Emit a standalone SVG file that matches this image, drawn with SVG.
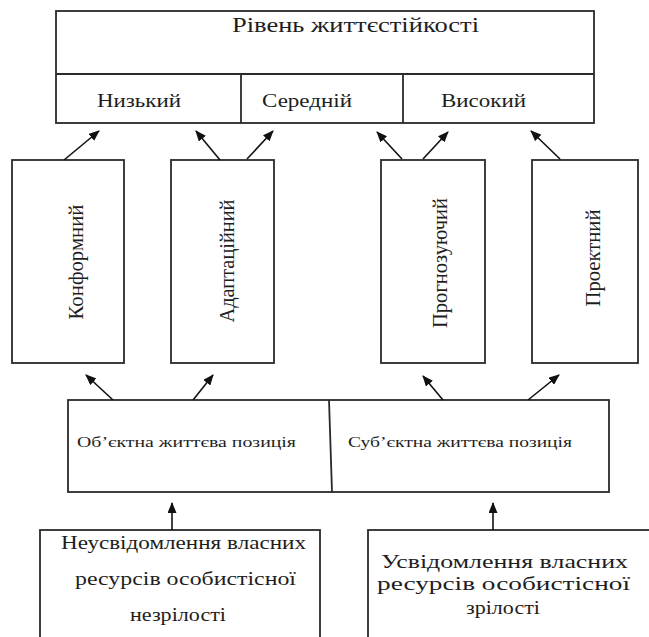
<svg xmlns="http://www.w3.org/2000/svg" width="649" height="637" viewBox="0 0 649 637">
<defs>
<marker id="ah" markerUnits="userSpaceOnUse" markerWidth="11" markerHeight="9" refX="10" refY="4.5" orient="auto">
<path d="M0,0 L11,4.5 L0,9 z" fill="#111"/>
</marker>
<style>
.box{fill:#fff;stroke:#2a2a2a;stroke-width:1.8}
.ln{stroke:#2a2a2a;stroke-width:1.8;fill:none}
.t{font-family:"Liberation Serif","Times New Roman",serif;fill:#1e1e1e}
.arr{stroke:#111;stroke-width:1.6;fill:none;marker-end:url(#ah)}
</style>
</defs>
<rect width="649" height="637" fill="#fff"/>
<g id="level">
<rect class="box" x="56" y="11" width="538" height="112"/>
<line class="ln" x1="56" y1="74" x2="594" y2="74"/>
<line class="ln" x1="241" y1="74" x2="241" y2="123"/>
<line class="ln" x1="403" y1="74" x2="403" y2="123"/>
<text class="t" x="232" y="32" font-size="21" textLength="247" lengthAdjust="spacingAndGlyphs">Рівень життєстійкості</text>
<text class="t" x="97" y="107" font-size="19" textLength="84" lengthAdjust="spacingAndGlyphs">Низький</text>
<text class="t" x="262" y="107" font-size="19" textLength="90" lengthAdjust="spacingAndGlyphs">Середній</text>
<text class="t" x="441" y="107" font-size="19" textLength="85" lengthAdjust="spacingAndGlyphs">Високий</text>
</g>
<g id="conform">
<rect class="box" x="12" y="160" width="112" height="203"/>
<text class="t" transform="translate(83,262) rotate(-90)" text-anchor="middle" font-size="20" textLength="115" lengthAdjust="spacingAndGlyphs">Конформний</text>
</g>
<g id="adapt">
<rect class="box" x="171" y="160" width="103" height="203"/>
<text class="t" transform="translate(234,261) rotate(-90)" text-anchor="middle" font-size="20" textLength="123" lengthAdjust="spacingAndGlyphs">Адаптаційний</text>
</g>
<g id="prognoz">
<rect class="box" x="381" y="160" width="104" height="203"/>
<text class="t" transform="translate(447,263) rotate(-90)" text-anchor="middle" font-size="20" textLength="130" lengthAdjust="spacingAndGlyphs">Прогнозуючий</text>
</g>
<g id="project">
<rect class="box" x="532" y="160" width="106" height="203"/>
<text class="t" transform="translate(600,258) rotate(-90)" text-anchor="middle" font-size="20" textLength="97" lengthAdjust="spacingAndGlyphs">Проектний</text>
</g>
<g id="position">
<rect class="box" x="68" y="400" width="541" height="92"/>
<line class="ln" x1="329" y1="400" x2="332" y2="492"/>
<text class="t" x="77" y="447" font-size="15" textLength="219" lengthAdjust="spacingAndGlyphs">Об’єктна життєва позиція</text>
<text class="t" x="348" y="447" font-size="15" textLength="224" lengthAdjust="spacingAndGlyphs">Суб’єктна життєва позиція</text>
</g>
<g id="unaware">
<rect class="box" x="40" y="530" width="280" height="120"/>
<text class="t" x="61" y="549" font-size="19" textLength="245" lengthAdjust="spacingAndGlyphs">Неусвідомлення власних</text>
<text class="t" x="75" y="585" font-size="19" textLength="221" lengthAdjust="spacingAndGlyphs">ресурсів особистісної</text>
<text class="t" x="130" y="621" font-size="19" textLength="96" lengthAdjust="spacingAndGlyphs">незрілості</text>
</g>
<g id="aware">
<rect class="box" x="368" y="530" width="290" height="120"/>
<text class="t" x="381" y="568" font-size="19" textLength="247" lengthAdjust="spacingAndGlyphs">Усвідомлення власних</text>
<text class="t" x="377" y="590" font-size="19" textLength="253" lengthAdjust="spacingAndGlyphs">ресурсів особистісної</text>
<text class="t" x="466" y="614" font-size="19" textLength="74" lengthAdjust="spacingAndGlyphs">зрілості</text>
</g>
<g id="connectors">
<line class="arr" x1="64" y1="160" x2="99" y2="131"/>
<line class="arr" x1="220" y1="160" x2="196" y2="131"/>
<line class="arr" x1="247" y1="159" x2="273" y2="131"/>
<line class="arr" x1="402" y1="159" x2="377" y2="132"/>
<line class="arr" x1="423" y1="159" x2="448" y2="132"/>
<line class="arr" x1="560" y1="159" x2="531" y2="131"/>
<line class="arr" x1="113" y1="400" x2="86" y2="375"/>
<line class="arr" x1="193" y1="400" x2="213" y2="375"/>
<line class="arr" x1="443" y1="400" x2="423" y2="376"/>
<line class="arr" x1="528" y1="400" x2="559" y2="375"/>
<line class="arr" x1="172" y1="530" x2="172" y2="503"/>
<line class="arr" x1="493" y1="530" x2="493" y2="503"/>
</g>
</svg>
